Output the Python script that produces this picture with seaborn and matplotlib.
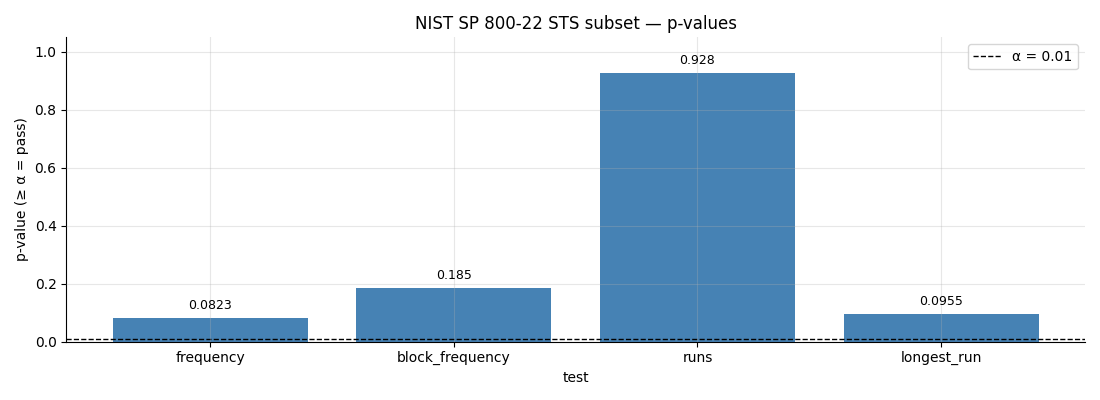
import matplotlib
matplotlib.use("Agg")
import matplotlib.pyplot as plt
import seaborn as sns
import pandas as pd

tests = ["frequency", "block_frequency", "runs", "longest_run"]
p_values = [0.0823, 0.185, 0.928, 0.0955]
p_labels = ["0.0823", "0.185", "0.928", "0.0955"]
alpha = 0.01

df = pd.DataFrame({"test": tests, "p": p_values})

fig, ax = plt.subplots(figsize=(11, 4), dpi=100)
sns.barplot(data=df, x="test", y="p", color="steelblue", saturation=1, width=0.8, ax=ax)

for i, (v, lab) in enumerate(zip(p_values, p_labels)):
    ax.text(i, v + 0.02, lab, ha="center", va="bottom", fontsize=9)

ax.axhline(alpha, color="black", linestyle="--", linewidth=1, label=f"α = {alpha}")
ax.legend(loc="upper right")

n = len(tests)
pad = 0.05 * (n - 1 + 0.8)
ax.set_xlim(-0.4 - pad, n - 1 + 0.4 + pad)
ax.set_ylim(0, 1.05)
ax.grid(True, alpha=0.3)
ax.set_axisbelow(False)
sns.despine(ax=ax)

ax.set_title("NIST SP 800-22 STS subset — p-values")
ax.set_xlabel("test")
ax.set_ylabel("p-value (≥ α = pass)")

fig.tight_layout()
fig.savefig("out.png", dpi=100)
